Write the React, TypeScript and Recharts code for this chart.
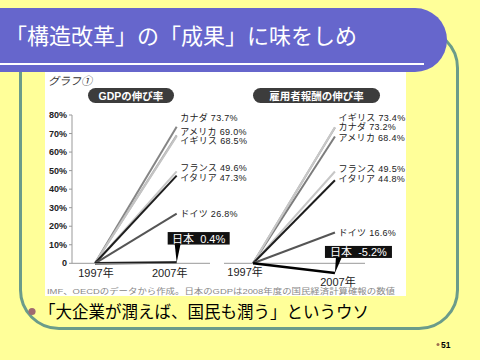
import React from 'react';
import { LineChart, Line, XAxis, YAxis, ReferenceLine, LabelList } from 'recharts';

// データ
const years = [1997, 2007];
const countries = ['カナダ', 'アメリカ', 'イギリス', 'フランス', 'イタリア', 'ドイツ', '日本'];
const gdpGrowth = [73.7, 69.0, 68.5, 49.6, 47.3, 26.8, 0.4];
const payGrowth = [73.2, 68.4, 73.4, 49.5, 44.8, 16.6, -5.2];
const gdpTicks = [0, 10, 20, 30, 40, 50, 60, 70, 80];

// 見た目
const gdpColors = ['#858585', '#a9a9a9', '#c4c4c4', '#c6c6c6', '#1e1e1e', '#555555', '#000000'];
const payColors = ['#a0a0a0', '#7c7c7c', '#c8c8c8', '#c6c6c6', '#1e1e1e', '#555555', '#000000'];
const gdpNudge = [-8.5, -3, 5, -3.5, 2, 0, 0];
const payNudge = [-0.5, 1.5, -9, -3, -1, 0, 0];
// [box x0, x1, y0, y1, tail x0, tail x1] relative to the line end
const gdpJapanBox = [-9, 53, -30.5, -18, -2, 4];
const payJapanBox = [-10, 57, -27, -15, 1, 7];

const FONT = "'Liberation Sans', 'Noto Sans CJK JP', sans-serif";
const JP = "'Noto Sans CJK JP', sans-serif";

const toRows = (vals: number[]) =>
  years.map((year, i) => {
    const r: any = { year };
    countries.forEach((c, j) => (r[c] = i === 0 ? 0 : vals[j]));
    return r;
  });

const gdpRows = toRows(gdpGrowth);
const payRows = toRows(payGrowth);

function endLabel(name: string, nudge: number, jp: number[] | null) {
  return (props: any) => {
    const { x, y, value, index } = props;
    if (index !== 1 || x == null) return null;
    const pct = `${Number(value).toFixed(1)}%`;
    if (jp) {
      const [x0, x1, y0, y1, t0, t1] = jp;
      return (
        <g>
          <polygon points={`${x + t0},${y + y1 - 1} ${x + t1},${y + y1 - 1} ${x},${y}`} fill="#000" />
          <rect x={x + x0} y={y + y0} width={x1 - x0} height={y1 - y0} fill="#111" />
          <text x={x + (x0 + x1) / 2} y={y + (y0 + y1) / 2 + 0.5} fill="#fff" textAnchor="middle"
            dominantBaseline="central" fontSize={11} fontFamily={FONT}>{`${name}\u00a0\u00a0${pct}`}</text>
        </g>
      );
    }
    return (
      <text x={x + 3.5} y={y + nudge} dominantBaseline="central" fontSize={9} letterSpacing={0.3} fill="#222" fontFamily={FONT}>
        {`${name}\u00a0${pct}`}
      </text>
    );
  };
}

const yearTick = (offsets: Record<number, number[]>) => (props: any) => {
  const { x, y, payload } = props;
  const [dx, dy] = offsets[payload.value] || [0, 0];
  return (
    <text x={x + dx} y={y + dy} textAnchor="middle" dominantBaseline="central" fontSize={11} fill="#222" fontFamily={FONT}>
      {payload.value}年
    </text>
  );
};

function Slide() {
  return (
    <div style={{ position: 'absolute', left: 0, top: 0, width: 480, height: 360, background: '#FFFF99', overflow: 'hidden', fontFamily: JP }}>
      {/* 枠 */}
      <div style={{ position: 'absolute', left: 19, top: 28, width: 434, height: 296, border: '3px solid #6B9C8A', borderRadius: 40 }} />
      {/* タイトル帯 */}
      <div style={{ position: 'absolute', left: 0, top: 8, width: 447, height: 64, background: '#6666CC', borderRadius: '0 32px 32px 0' }} />
      <div style={{ position: 'absolute', left: 0, top: 63, width: 424, height: 2, background: '#fff' }} />
      <div style={{ position: 'absolute', left: 5, top: 20, color: '#fff', fontSize: 22, lineHeight: '28px', whiteSpace: 'nowrap' }}>
        「構造改革」の「成果」に味をしめ
      </div>
      {/* 図 */}
      <div style={{ position: 'absolute', left: 45, top: 72, width: 361, height: 224, background: '#fff' }} />
      <svg style={{ position: 'absolute', left: 0, top: 0 }} width={480} height={360}>
        <text x={48} y={80} fontSize={11} fontStyle="italic" fill="#333" fontFamily={JP} dominantBaseline="central">グラフ①</text>
        <rect x={88} y={88} width={86} height={15} rx={7.5} fill="#3c3c3c" />
        <text x={131} y={96} fontSize={10.5} fontWeight="bold" fill="#fff" textAnchor="middle" dominantBaseline="central" fontFamily={FONT}>GDPの伸び率</text>
        <rect x={253} y={88} width={127} height={15} rx={7.5} fill="#3c3c3c" />
        <text x={316.5} y={96} fontSize={10.5} fontWeight="bold" fill="#fff" textAnchor="middle" dominantBaseline="central" fontFamily={FONT}>雇用者報酬の伸び率</text>
        <text x={47} y={291.5} fontSize={8} fill="#888" fontFamily={FONT} dominantBaseline="central" textLength={348} lengthAdjust="spacingAndGlyphs">
          IMF、OECDのデータから作成。日本のGDPは2008年度の国民経済計算確報の数値
        </text>
        <circle cx={32} cy={311.5} r={3.6} fill="#A06A70" />
        <circle cx={438} cy={344.5} r={1.5} fill="#A07050" />
        <text x={441} y={344.5} fontSize={8.5} fontWeight="bold" fill="#000" fontFamily={FONT} dominantBaseline="central">51</text>
      </svg>
      <div style={{ position: 'absolute', left: 39, top: 299, fontSize: 16.5, lineHeight: '24px', color: '#000', whiteSpace: 'nowrap' }}>
        「大企業が潤えば、国民も潤う」というウソ
      </div>

      {/* 左: GDPの伸び率 */}
      <div style={{ position: 'absolute', left: 0, top: 0 }}>
        <LineChart width={260} height={300} data={gdpRows} margin={{ top: 115, right: 50, bottom: 16.7, left: 0 }}>
          <XAxis dataKey="year" type="number" domain={[1994.185, 2011.08]} ticks={years} allowDataOverflow
            height={20} tickLine={false} axisLine={{ stroke: '#999' }} tick={yearTick({ 1997: [1, 1.5], 2007: [-7, 1.5] })} />
          <YAxis type="number" domain={[0, 80]} ticks={gdpTicks} width={72} tickSize={3} tickMargin={2}
            axisLine={{ stroke: '#999' }} tickLine={{ stroke: '#999' }}
            tickFormatter={(v: number) => (v === 0 ? '0' : `${v}%`)}
            tick={{ fontSize: 9, fontWeight: 'bold', fill: '#222', fontFamily: FONT }} />
          {countries.map((c, j) => (
            <Line key={c} dataKey={c} stroke={gdpColors[j]} strokeWidth={j === 6 ? 2.6 : 2} dot={false} isAnimationActive={false}>
              <LabelList dataKey={c} content={endLabel(c, gdpNudge[j], j === 6 ? gdpJapanBox : null)} />
            </Line>
          ))}
        </LineChart>
      </div>

      {/* 右: 雇用者報酬の伸び率 */}
      <div style={{ position: 'absolute', left: 200, top: 0 }}>
        <LineChart width={240} height={304} data={payRows} margin={{ top: 115, right: 75, bottom: 2.16, left: 24 }}>
          <XAxis dataKey="year" type="number" domain={[1993.45, 2010.67]} ticks={years} allowDataOverflow
            height={20} tickLine={false} axisLine={false} tick={yearTick({ 1997: [-8, -18], 2007: [3, -8] })} />
          <YAxis hide type="number" domain={[-10, 80]} />
          <ReferenceLine y={0} stroke="#999" />
          {countries.map((c, j) => (
            <Line key={c} dataKey={c} stroke={payColors[j]} strokeWidth={j === 6 ? 2.6 : 2} dot={false} isAnimationActive={false}>
              <LabelList dataKey={c} content={endLabel(c, payNudge[j], j === 6 ? payJapanBox : null)} />
            </Line>
          ))}
        </LineChart>
      </div>
    </div>
  );
}

export default function App() {
  return <Slide />;
}
